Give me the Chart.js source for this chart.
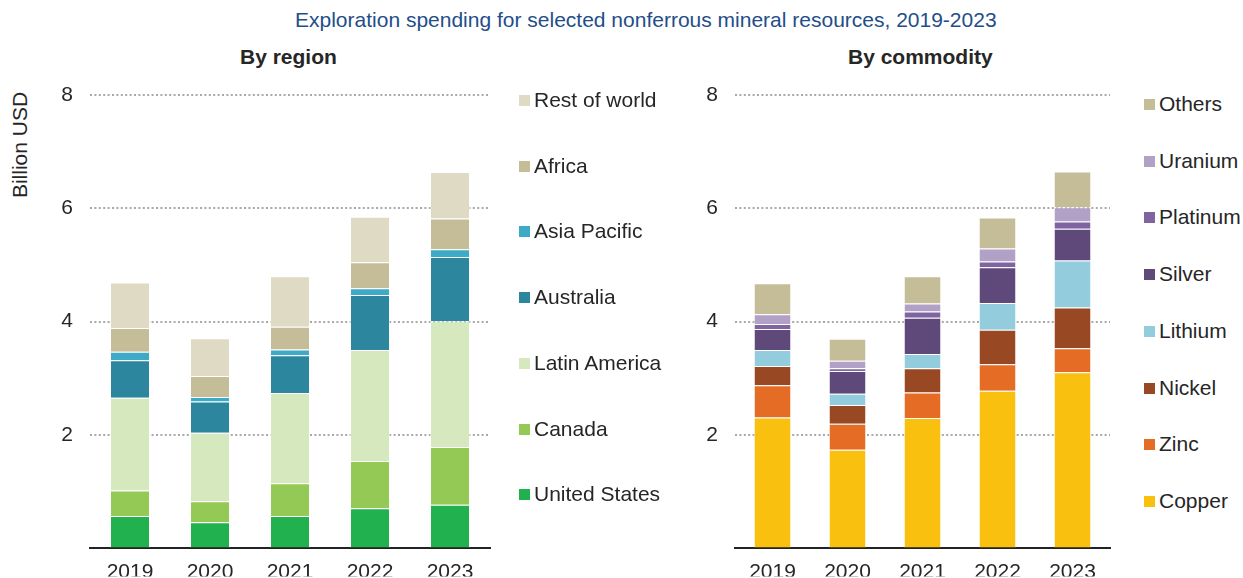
<!DOCTYPE html>
<html>
<head>
<meta charset="utf-8">
<script src="https://cdn.jsdelivr.net/npm/chart.js@4.4.0/dist/chart.umd.min.js"></script>
<style>
  body { margin: 0; background: #fff; font-family: "Liberation Sans", Arial, sans-serif; color: #262626; }
  #wrap { position: relative; width: 1243px; height: 578px; overflow: hidden; }
  .abs { position: absolute; white-space: nowrap; }
  .title { left: 295px; top: 8px; font-size: 21px; line-height: 24px; color: #1f4e89; }
  .sub { top: 45px; font-size: 21px; line-height: 24px; font-weight: bold; }
  .ytitle { left: 20px; top: 145px; font-size: 21px; transform: translate(-50%, -50%) rotate(-90deg); }
  .legend-item { position: absolute; font-size: 21px; line-height: 24px; height: 24px; }
  .legend-item span.box { display: inline-block; width: 11px; height: 11px; margin-right: 4px; vertical-align: 1px; }
</style>
</head>
<body>
<div id="wrap">
  <div class="abs title">Exploration spending for selected nonferrous mineral resources, 2019-2023</div>
  <div class="abs sub" style="left:240px">By region</div>
  <div class="abs sub" style="left:848px">By commodity</div>
  <div class="abs ytitle">Billion USD</div>
  <div class="abs" style="left:0;top:0;width:500px;height:578px"><canvas id="chart-region"></canvas></div>
  <div class="abs" style="left:640px;top:0;width:480px;height:578px"><canvas id="chart-commodity"></canvas></div>
  <div id="legend-region"></div>
  <div id="legend-commodity"></div>
</div>
<script>
const years = ["2019", "2020", "2021", "2022", "2023"];
const yTicks = [2, 4, 6, 8];

// by region (Billion USD)
const unitedStates = [0.57, 0.46, 0.57, 0.71, 0.77];
const canada = [0.45, 0.37, 0.58, 0.83, 1.02];
const latinAmerica = [1.64, 1.21, 1.59, 1.96, 2.22];
const australia = [0.66, 0.55, 0.67, 0.97, 1.13];
const asiaPacific = [0.15, 0.08, 0.10, 0.12, 0.14];
const africa = [0.42, 0.37, 0.40, 0.46, 0.54];
const restOfWorld = [0.80, 0.67, 0.89, 0.80, 0.82];

// by commodity (Billion USD)
const copper = [2.31, 1.74, 2.30, 2.78, 3.11];
const zinc = [0.57, 0.46, 0.45, 0.47, 0.42];
const nickel = [0.34, 0.33, 0.43, 0.61, 0.72];
const lithium = [0.28, 0.20, 0.25, 0.47, 0.83];
const silver = [0.37, 0.40, 0.64, 0.63, 0.56];
const platinum = [0.09, 0.05, 0.11, 0.10, 0.13];
const uranium = [0.17, 0.13, 0.14, 0.23, 0.25];
const others = [0.55, 0.39, 0.48, 0.55, 0.63];

const regionSeries = [
    { label: "United States", data: unitedStates, color: "#21b24f" },
    { label: "Canada", data: canada, color: "#93c954" },
    { label: "Latin America", data: latinAmerica, color: "#d5e8be" },
    { label: "Australia", data: australia, color: "#2b869e" },
    { label: "Asia Pacific", data: asiaPacific, color: "#3daac6" },
    { label: "Africa", data: africa, color: "#c4bd97" },
    { label: "Rest of world", data: restOfWorld, color: "#dfdac3" },
];
const commoditySeries = [
    { label: "Copper", data: copper, color: "#fac010" },
    { label: "Zinc", data: zinc, color: "#e46c25" },
    { label: "Nickel", data: nickel, color: "#984822" },
    { label: "Lithium", data: lithium, color: "#93cddd" },
    { label: "Silver", data: silver, color: "#5f497a" },
    { label: "Platinum", data: platinum, color: "#8064a2" },
    { label: "Uranium", data: uranium, color: "#b2a1c7" },
    { label: "Others", data: others, color: "#c4bd97" },
];

Chart.defaults.font.family = "'Liberation Sans', Arial, sans-serif";
Chart.defaults.color = "#262626";
Chart.defaults.animation = false;

function makeConfig(series, axisWidth) {
    return {
        type: "bar",
        data: {
            labels: years,
            datasets: series.map(s => ({
                label: s.label,
                data: s.data,
                backgroundColor: s.color,
                borderColor: "rgba(255,255,255,0.45)",
                borderWidth: 1,
                barPercentage: 0.5,
                categoryPercentage: 1,
            })),
        },
        options: {
            responsive: true,
            maintainAspectRatio: false,
            layout: { padding: { top: 95, right: 10, left: 0, bottom: 0 } },
            plugins: { legend: { display: false }, tooltip: { enabled: false } },
            scales: {
                x: {
                    stacked: true,
                    grid: { display: false },
                    border: { color: "#222", width: 2 },
                    ticks: { font: { size: 21 }, padding: 3 },
                    afterFit: scale => { scale.height = 28; },
                },
                y: {
                    stacked: true,
                    min: 0,
                    max: 8,
                    border: { display: false, dash: [2, 2.4] },
                    grid: {
                        drawTicks: false,
                        lineWidth: 2,
                        color: ctx => ctx.tick && ctx.tick.value === 0 ? "rgba(0,0,0,0)" : "#a8a8a8",
                    },
                    ticks: {
                        stepSize: 2,
                        padding: 17,
                        font: { size: 21 },
                        callback: v => yTicks.includes(v) ? v : "",
                    },
                    afterFit: scale => { scale.width = axisWidth; },
                },
            },
        },
    };
}

const chartRegion = new Chart(document.getElementById("chart-region"), makeConfig(regionSeries, 90));
const chartCommodity = new Chart(document.getElementById("chart-commodity"), makeConfig(commoditySeries, 95));

function buildLegend(id, series, boxLeft, firstY, step) {
    const el = document.getElementById(id);
    series.slice().reverse().forEach((s, i) => {
        const item = document.createElement("div");
        item.className = "legend-item";
        item.style.left = boxLeft + "px";
        item.style.top = (firstY + i * step - 12) + "px";
        item.innerHTML = '<span class="box" style="background:' + s.color + '"></span>' + s.label;
        el.appendChild(item);
    });
}
buildLegend("legend-region", regionSeries, 519, 100, 65.7);
buildLegend("legend-commodity", commoditySeries, 1144, 104, 56.7);
</script>
</body>
</html>
